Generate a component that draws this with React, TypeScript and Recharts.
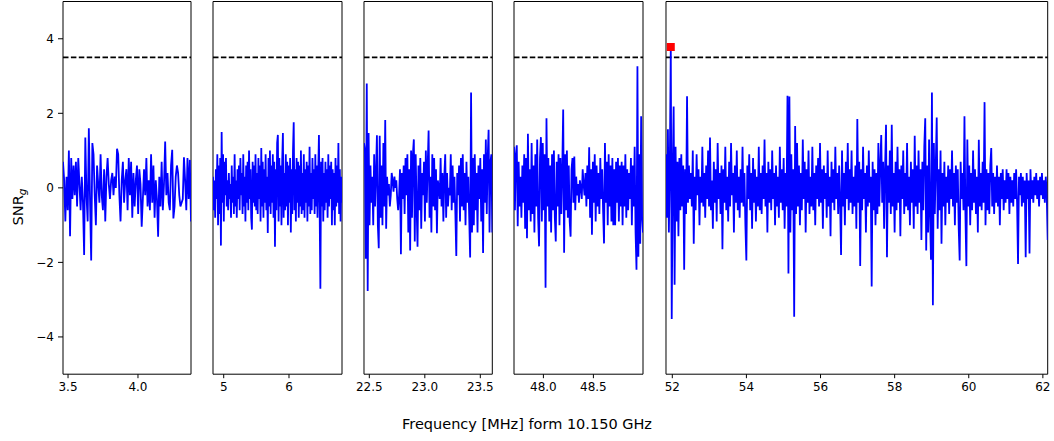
import React from 'react';
import { ComposedChart, Line, XAxis, YAxis, ReferenceLine, ReferenceArea, Scatter } from 'recharts';

// ---------- data ----------
const P1_RANGE = [3.464, 4.379];
const P1_VALUES = [
  0.7, 0.2, -0.9, 0.3, -0.6, 1.0, -1.3, 0.8, -0.3, 0.6, -0.2, 0.7, -0.5, 0.8, 0.1, -0.6,
  0.3, -0.4, -1.8, 1.35, -0.2, -0.9, 1.6, -0.3, -1.95, 1.2, 0.9, -0.2,
  -1.0, 0.6, 0.1, -0.4, 0.9, -0.2, -0.6, 0.5, -0.9, 0.3, 0.8, 0.1, -0.3, 0.2, 0.4, -0.2, 0.3, 0.0,
  1.05, 0.9, -0.2, -0.9, 0.2, 0.7, -0.4, 0.2, 0.5, -0.6, 0.8, -0.2, 0.7, -0.8, 0.4, -0.5, 0.2, 0.6, -0.7, 0.5, 0.1,
  -1.04, -0.3, 0.5, -0.2, 0.8, -0.5, 0.2, -0.6, 0.9,
  -0.4, 0.6, -0.8, 0.2, -0.3, -1.31, 0.3, -0.5, 0.7, -0.6, 0.1, 1.24,
  -0.2, 0.4, -0.4, -0.6, 0.6, 1.02, -0.82, -0.5, 0.3, 0.6, 0.4, -0.2, -0.5, -0.4, -0.3, 0.82, 0.2, -0.6, 0.8, -0.3, 0.75, -0.9,
];
const P1_TICKS = [3.5, 4.0];
const P1_TICK_LABELS = ['3.5', '4.0'];

const P2_RANGE = [4.836, 6.812];
const P2_VALUES = [
  0.3, -0.6, 0.2, -0.8, 0.5, -0.3, 0.9, -1.0, 0.6, -0.7, 0.8, -1.55, 1.5, -0.4, 0.9, -0.9, 0.7, -0.2, 0.8, -0.5,
  0.2, -0.6, 0.4, -0.3, 0.1, -0.8, 0.6, -0.4, 0.3, -0.7, 0.9, -0.5, 0.2, -0.8, 0.5, -0.3, 0.6, -0.6, 0.8, -0.2,
  0.4, -0.7, 0.9, -0.5, 0.3, -0.9, 0.6, -0.4, 0.7, -0.6, 1.0, -0.3, 0.5, -0.8, -1.12, 0.7, -0.4, 0.6, -0.5, 0.9,
  -0.6, 0.4, -0.7, 0.8, -0.3, 0.6, -0.9, 1.07, -0.5, 0.7, -0.8, 0.5, -0.4, 0.9, -0.6, 0.3, -1.21, 0.8, -0.5, 1.0,
  -0.7, 0.6, -0.4, 0.9, -0.8, 0.7, -1.58, 0.5, -0.6, 1.2, 1.42, -0.9, 0.8, -0.5, 0.6, -1.0, 0.7, 1.47, -0.8, 0.4,
  -0.6, 0.9, -0.5, 0.7, -1.0, 0.6, -0.4, 0.8, -1.2, 0.5, -0.7, 1.0, 1.76, -0.6, 0.5, -0.9, 0.8, -0.4, 0.7, -0.8,
  0.6, -0.5, 1.0, -0.7, 0.4, -0.6, 0.9, -0.8, 0.5, -0.4, 0.7, -0.9, 0.6, -0.5, 1.1, -0.7, 0.4, -0.6, 0.8, -0.3,
  0.5, -0.7, 0.9, -0.5, 0.6, -0.8, 0.4, 1.42, -0.6, -2.71, 0.7, -0.5, 0.8, -0.9, 0.4, -0.6, 0.7, -0.4, 0.5, -0.8,
  0.9, -0.5, 0.6, -0.3, 0.7, -1.0, 0.5, -0.6, 0.4, -1.0, 0.8, -0.5, 0.6, -0.4, 1.2, -0.7, 0.5, -0.9, 0.3, -0.4,
];
const P2_TICKS = [5, 6];
const P2_TICK_LABELS = ['5', '6'];

const P3_RANGE = [22.452, 23.608];
const P3_VALUES = [
  1.2, 1.0, -1.9, 2.8, -2.77, 1.47, -1.0, 0.6, -0.4, 0.3, -1.0, 0.9, -0.5, 0.4, 1.41, -1.0, -1.62, 1.4, -0.8, 0.6,
  -1.0, 1.2, -0.5, 1.82, -1.1, 0.3, -0.2, 0.1, -0.5, -0.2, 0.4, 0.2, -0.1, 0.3, 0.0, 0.2, -0.3, -0.6, -0.2, 0.5,
  -1.78, 0.4, -0.3, 0.6, -0.7, 0.8, -0.2, 0.9, -1.2, 0.5, -1.68, 1.0, -0.8, 0.9, 1.3, -1.44, 0.9, -0.5, -1.58, 0.6,
  -0.6, 0.8, -1.1, 0.4, -0.2, 0.7, -0.9, 1.0, -0.4, 0.6, 1.54, -0.8, 0.3, -1.2, 0.9, -0.5, 0.8, -0.6, 0.5, -1.22,
  0.2, 0.0, -0.3, 0.8, -0.5, 0.4, -0.9, 0.3, 0.9, -0.8, 0.4, -0.5, 0.0, -0.2, 0.9, -0.6, 0.6, -0.4, 0.3, -0.7,
  -1.83, 0.4, -0.2, 0.6, -0.9, 0.8, -0.5, 0.9, -0.6, 0.4, -1.0, 0.7, -0.4, 0.3, -0.8, -1.87, 2.56, -1.2, 0.8, -1.0,
  0.9, -0.6, 0.4, -1.2, 0.6, -0.3, 0.8, -0.9, 0.5, -1.75, 0.9, -0.4, 1.3, -0.7, 0.8, 1.56, -1.2, 0.7, 0.9, -1.2,
];
const P3_TICKS = [22.5, 23.0, 23.5];
const P3_TICK_LABELS = ['22.5', '23.0', '23.5'];

const P4_RANGE = [47.706, 48.996];
const P4_VALUES = [
  1.1, -0.6, 0.9, 1.14, -1.03, 0.7, -0.5, 0.3, -0.8, 0.6, -0.4, 0.9, -1.1, 0.8, -1.35, 1.45, -0.6, 0.5, -0.9, 1.2,
  -0.7, 0.6, -1.2, 0.9, -0.5, 1.3, -0.8, -1.57, 0.8, 1.36, -0.9, 1.2, -0.6, 0.9, -2.68, 1.87, -0.5, 0.8, -0.9, 0.6,
  -1.2, 0.9, -0.6, 1.0, -0.8, -1.44, 0.7, -0.5, 0.9, -1.0, 0.8, -0.7, 0.5, 2.1, -1.74, 0.9, -0.6, 1.0, -0.8, 0.6,
  -0.9, -1.31, 0.5, 0.8, -0.4, 0.84, -0.6, 0.3, -0.2, 0.1, -0.4, 0.2, 0.0, -0.3, 0.5, 0.1, -0.2, 0.4, -0.5, 0.6,
  -0.3, 1.09, -0.8, 0.5, -1.26, 0.7, -0.4, 0.9, -0.9, 0.6, -0.5, 0.4, -0.7, 0.8, -0.3, 0.5, -0.6, -1.49, 1.2, -0.4,
  0.7, -1.0, 0.9, -0.5, 0.6, -0.9, 0.8, -1.0, 0.5, -1.0, 0.7, -0.4, 0.8, -0.9, 0.6, -0.5, 0.7, -1.0, 0.6, -0.5,
  0.9, -0.8, 0.5, -0.6, 0.4, -0.3, 0.8, -1.0, 0.6, -0.5, 1.1, -1.2, -2.2, 3.26, -1.85, 0.9, -1.5, 1.92, -0.8, -1.2,
];
const P4_TICKS = [48.0, 48.5];
const P4_TICK_LABELS = ['48.0', '48.5'];

const P5_RANGE = [51.83, 62.13];
const P5_VALUES = [
  0.9, -0.8, 1.57, -1.2, 0.6, 3.78, -3.52, 0.4, 2.18, -2.6, 1.1, -0.9, 0.7, -1.3, 0.8, -0.6, 0.9, -0.5, 0.6, -2.2,
  0.5, -0.7, 2.46, -0.4, 0.6, -0.3, 0.4, -0.5, 1.0, -1.5, 0.3, -0.6, 0.9, -0.2, 0.5, -1.0, 0.3, -0.4, 1.1, -0.5,
  0.4, -0.8, 0.6, -0.3, 1.0, -0.5, 1.35, -0.6, 0.2, -1.1, 0.7, -0.4, 0.5, -0.9, 1.2, -0.3, 0.4, -0.7, 0.6, -1.65,
  0.5, -0.4, 1.1, -0.6, 0.3, -0.9, 0.7, -0.5, 1.2, -0.2, 0.4, -1.2, 0.6, -0.4, 1.0, -0.6, 0.3, -0.8, 0.5, -0.4,
  1.1, -0.5, 0.4, -1.0, -1.95, 0.6, -0.3, 0.9, -0.6, 0.4, -1.1, 0.8, -0.4, 0.5, -0.9, 0.3, -0.5, 1.1, -0.6, 0.4,
  -0.7, 0.6, -0.3, 1.3, -0.5, 0.4, -1.2, 0.7, -0.4, 0.5, -0.6, 1.0, -0.3, 0.4, -1.0, 0.6, -0.5, 0.3, -0.8, 1.1,
  -0.4, 0.5, -0.6, 0.8, -1.1, 0.4, -0.5, 2.47, -2.3, 2.45, -1.2, 0.9, -0.6, 0.5, -3.46, 1.66, -0.7, 1.2, -0.5, 0.6,
  -1.0, 0.4, -0.6, 1.3, -0.3, 0.7, -1.2, 0.5, -0.4, 1.0, -0.7, 0.3, -0.5, 1.1, -0.6, 0.4, -1.0, 0.6, -0.3, 0.8,
  -0.5, 1.2, -0.4, 0.5, -1.1, 0.6, -0.3, 0.4, -0.8, 1.0, -0.5, 0.3, -1.3, 0.7, -0.4, 0.5, -0.6, 1.1, -0.3, 0.4,
  -0.7, 0.6, -0.4, -1.8, 1.0, -0.5, 0.4, -1.0, 0.7, -0.3, 1.2, -0.6, 0.5, -0.4, 1.0, -0.7, 0.3, -0.5, 0.6, -1.1,
  1.85, -0.4, 0.7, -2.1, 0.5, -0.6, 1.1, -0.3, 0.4, -1.2, 0.6, -0.5, 1.0, -0.4, 0.3, -2.65, 0.7, -0.6, 0.5, -1.0,
  0.4, -0.7, 1.2, -0.5, 0.6, 1.42, -0.4, 0.7, -1.1, 0.5, 1.69, -1.86, 0.6, -0.4, 1.0, -0.7, 1.69, -0.5, 0.4, -1.2,
  0.7, -0.6, 1.1, -0.4, 0.5, -1.3, 0.6, -0.3, 1.0, -0.7, 0.4, -0.5, 1.2, -0.6, 0.3, -1.0, 0.7, -0.4, 0.5, -1.1,
  1.4, -0.5, 0.6, -0.7, 1.0, -0.4, 0.5, -1.4, 0.7, -0.6, 1.1, 1.87, -1.68, 0.6, -1.2, 1.3, -0.7, -1.93, 2.56, -3.15,
  1.2, -0.7, 0.6, 1.89, -1.1, 0.5, -0.6, 1.0, -1.5, 0.4, -0.5, 0.7, -1.0, 0.3, -0.4, 0.6, -0.7, 0.5, -0.3, 1.0,
  -0.5, 0.4, -1.0, 0.6, -0.4, 0.5, -1.1, -1.95, 0.7, -0.3, 0.4, -0.6, 1.92, -0.7, -2.1, 1.3, -0.5, 0.6, -1.0, 0.4,
  -0.6, 1.0, -0.4, 0.5, -0.7, 0.3, -1.2, 1.29, -0.5, 0.4, -0.6, 0.7, -0.4, 2.3, -1.0, 0.5, -0.6, 0.4, -0.7, 0.6,
  1.07, -0.5, 0.4, -0.7, 0.3, -0.4, 0.6, -0.5, 0.3, -1.0, 0.4, -0.3, 0.5, -0.6, 0.2, -0.4, 0.5, -0.3, 0.4, -0.7,
  0.3, -0.4, 0.2, -0.5, 0.4, -0.3, 0.5, -0.4, -2.04, 0.3, -0.2, 0.4, -0.5, 0.3, -0.4, 0.2, -1.86, 0.4, -0.3, 0.2,
  -1.76, 0.5, -0.3, 0.2, -0.4, 0.3, -0.2, 0.4, -0.3, 0.2, -0.5, 0.3, -0.2, 0.4, -0.3, 0.2, -0.4, 0.3, -0.2, -1.4,
];
const P5_TICKS = [52, 54, 56, 58, 60, 62];
const P5_TICK_LABELS = ['52', '54', '56', '58', '60', '62'];
const P5_PEAK_INDEX = 5; // sample flagged above threshold (red square)

const Y_DOMAIN = [-5, 5];
const Y_TICKS = [-4, -2, 0, 2, 4];
const Y_TICK_LABELS = ['\u22124', '\u22122', '0', '2', '4'];
const THRESHOLD = 3.5;

const X_LABEL = 'Frequency [MHz] form 10.150 GHz';

// ---------- layout ----------
const FONT = 'DejaVu Sans, sans-serif';
const LAYOUT = [
  { left: 62.7, right: 190.7 },
  { left: 213.3, right: 342.3 },
  { left: 364.0, right: 492.3 },
  { left: 514.3, right: 643.3 },
  { left: 666.0, right: 1047.7 },
];
const CHART_H = 441;
const PLOT_TOP = 1.5;
const PLOT_H = 372.7;
const X_AXIS_H = 30;
const Y_AXIS_W = 45;
const RIGHT_PAD = 8;

type PanelProps = {
  values: number[];
  range: number[];
  ticks: number[];
  labels: string[];
  left: number;
  right: number;
  showY: boolean;
  peakIndex?: number;
};

function Panel({ values, range, ticks, labels, left, right, showY, peakIndex }: PanelProps) {
  const n = values.length;
  const step = (range[1] - range[0]) / (n - 1);
  const data = values.map((v, i) => ({ f: range[0] + i * step, v }));
  const width = right - left + Y_AXIS_W + RIGHT_PAD;
  const peak = peakIndex !== undefined ? [data[peakIndex]] : null;
  return (
    <div style={{ position: 'absolute', left: left - Y_AXIS_W, top: 0 }}>
      <ComposedChart
        width={width}
        height={CHART_H}
        data={data}
        margin={{ top: PLOT_TOP, right: RIGHT_PAD, left: 0, bottom: CHART_H - PLOT_TOP - PLOT_H - X_AXIS_H }}
      >
        <XAxis
          dataKey="f"
          type="number"
          domain={range}
          allowDataOverflow
          ticks={ticks}
          interval={0}
          height={X_AXIS_H}
          tickFormatter={(t: number) => labels[ticks.indexOf(t)]}
          axisLine={false}
          tickLine={{ stroke: '#000', strokeWidth: 1 }}
          tickSize={4}
          tickMargin={4}
          tick={{ fill: '#000', fontSize: 12, fontFamily: FONT }}
        />
        <YAxis
          type="number"
          domain={Y_DOMAIN}
          allowDataOverflow
          ticks={Y_TICKS}
          interval={0}
          width={Y_AXIS_W}
          tickFormatter={(t: number) => Y_TICK_LABELS[Y_TICKS.indexOf(t)]}
          axisLine={false}
          tickLine={{ stroke: '#000', strokeWidth: 1 }}
          tickSize={5}
          tickMargin={4}
          tick={showY ? { fill: '#000', fontSize: 12, fontFamily: FONT } : false}
        />
        <ReferenceLine y={THRESHOLD} stroke="#000" strokeWidth={1.6} strokeDasharray="5.5 2.4" />
        <Line
          dataKey="v"
          type="linear"
          stroke="#0000ff"
          strokeWidth={1.8}
          dot={false}
          activeDot={false}
          isAnimationActive={false}
        />
        {peak && (
          <Scatter data={peak} dataKey="v" fill="#ff0000" shape="square" isAnimationActive={false} />
        )}
        <ReferenceArea
          x1={range[0]}
          x2={range[1]}
          y1={Y_DOMAIN[0]}
          y2={Y_DOMAIN[1]}
          fill="none"
          fillOpacity={0}
          stroke="#000"
          strokeWidth={1}
          ifOverflow="visible"
        />
      </ComposedChart>
    </div>
  );
}

const PANELS = [
  { values: P1_VALUES, range: P1_RANGE, ticks: P1_TICKS, labels: P1_TICK_LABELS },
  { values: P2_VALUES, range: P2_RANGE, ticks: P2_TICKS, labels: P2_TICK_LABELS },
  { values: P3_VALUES, range: P3_RANGE, ticks: P3_TICKS, labels: P3_TICK_LABELS },
  { values: P4_VALUES, range: P4_RANGE, ticks: P4_TICKS, labels: P4_TICK_LABELS },
  { values: P5_VALUES, range: P5_RANGE, ticks: P5_TICKS, labels: P5_TICK_LABELS, peakIndex: P5_PEAK_INDEX },
];

export default function App() {
  return (
    <div style={{ position: 'absolute', left: 0, top: 0, width: 1054, height: 441, background: '#fff', overflow: 'hidden', fontFamily: FONT }}>
      {PANELS.map((p, k) => (
        <Panel
          key={k}
          values={p.values}
          range={p.range}
          ticks={p.ticks}
          labels={p.labels}
          left={LAYOUT[k].left}
          right={LAYOUT[k].right}
          showY={k === 0}
          peakIndex={(p as any).peakIndex}
        />
      ))}
      <div
        style={{
          position: 'absolute', left: 0, top: 415, width: 1054, textAlign: 'center',
          fontSize: 14.5, color: '#000', lineHeight: '18px', whiteSpace: 'nowrap',
        }}
      >
        {X_LABEL}
      </div>
      <div
        style={{
          position: 'absolute', left: 18, top: 207, width: 0, height: 0,
        }}
      >
        <div
          style={{
            position: 'absolute', left: 0, top: 0, transform: 'translate(-50%, -50%) rotate(-90deg)',
            fontSize: 14.5, color: '#000', whiteSpace: 'nowrap', lineHeight: '18px',
          }}
        >
          SNR<sub style={{ fontStyle: 'italic', fontSize: 10.5, verticalAlign: '-3px', lineHeight: 0 }}>g</sub>
        </div>
      </div>
    </div>
  );
}
